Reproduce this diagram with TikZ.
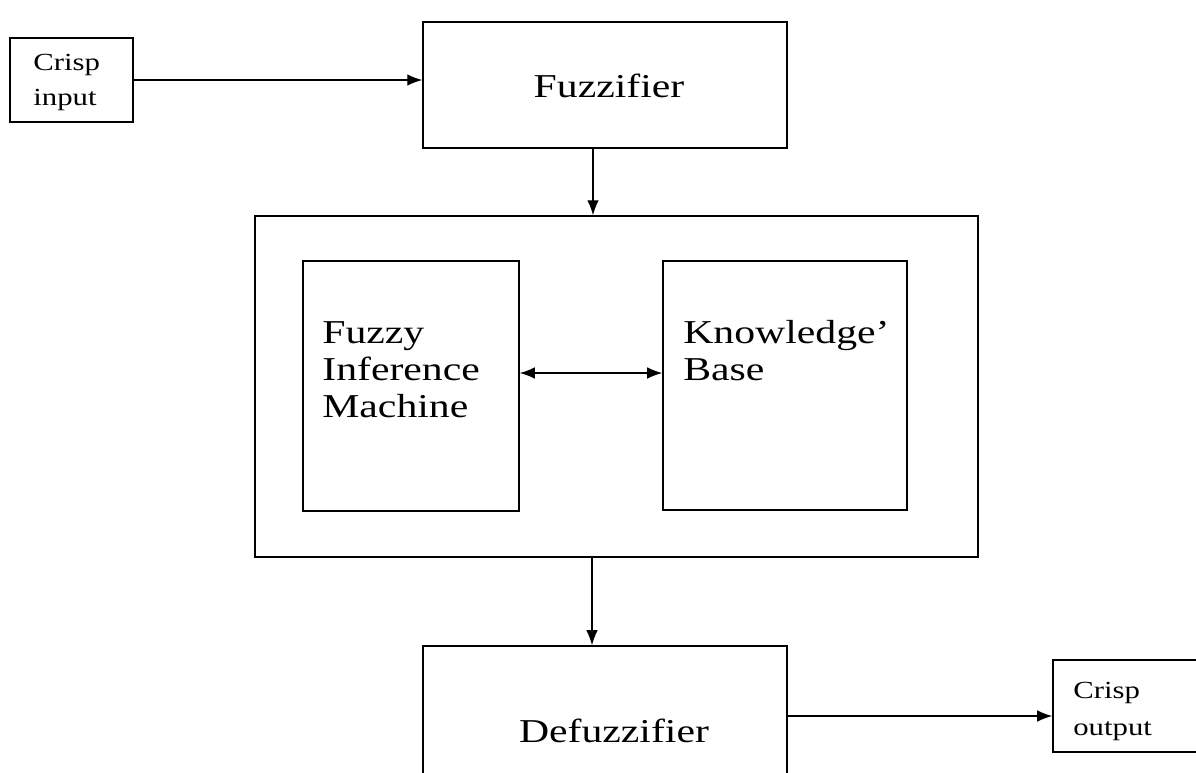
\documentclass[tikz,border=0pt]{standalone}
\usepackage{fontspec}
\setmainfont{Liberation Serif}
\newfontfamily\scanfont[FakeStretch=1.25,Ligatures=TeX]{Liberation Serif}
\usetikzlibrary{arrows.meta}
\begin{document}
\begin{tikzpicture}[x=0.02cm,y=-0.02cm,
  box/.style={draw=black, line width=0.9pt, rectangle, inner sep=0pt},
  bigtext/.style={inner sep=0pt, font=\scanfont\fontsize{19}{21}\selectfont},
  smalltext/.style={inner sep=0pt, font=\scanfont\fontsize{14}{16}\selectfont},
  arr/.style={-{Latex[length=3mm,width=2.3mm]}, line width=0.7pt},
  biarr/.style={{Latex[length=3mm,width=2.3mm]}-{Latex[length=3mm,width=2.3mm]}, line width=0.7pt}]
\useasboundingbox (0,0) rectangle (1196,772);
\clip (0,0) rectangle (1196,772);

% crisp input
\node[box, minimum width=2.46cm, minimum height=1.68cm] (cin) at (71.5,80) {};
\node[smalltext, anchor=base west] (cinA) at (33,70) {Crisp};
\node[smalltext, anchor=base west] (cinB) at (33,105) {input};

% fuzzifier
\node[box, minimum width=7.28cm, minimum height=2.52cm] (fuzz) at (605,85) {};
\node[bigtext, anchor=base] (fuzzT) at (609,97) {Fuzzifier};

% inference block with its two parts
\node[box, minimum width=14.46cm, minimum height=6.82cm] (outer) at (616.5,386.5) {};
\node[box, minimum width=4.32cm, minimum height=5cm] (fim) at (411,386) {};
\node[bigtext, anchor=base west] (fimA) at (322,343) {Fuzzy};
\node[bigtext, anchor=base west] (fimB) at (322,380) {Inference};
\node[bigtext, anchor=base west] (fimC) at (322,417) {Machine};
\node[box, minimum width=4.88cm, minimum height=4.98cm] (kb) at (785,385.5) {};
\node[bigtext, anchor=base west] (kbA) at (683,343) {Knowledge’};
\node[bigtext, anchor=base west] (kbB) at (683,380) {Base};

% defuzzifier (runs past the lower edge)
\node[box, minimum width=7.28cm, minimum height=3.36cm] (defuzz) at (605,730) {};
\node[bigtext, anchor=base] (defuzzT) at (614,742) {Defuzzifier};

% crisp output
\node[box, minimum width=2.94cm, minimum height=1.84cm] (cout) at (1126.5,706) {};
\node[smalltext, anchor=base west] (coutA) at (1073,698) {Crisp};
\node[smalltext, anchor=base west] (coutB) at (1073,735) {output};

% connector guides
\coordinate (ax) at (593,0);
\coordinate (bx) at (592,0);
\coordinate (dy) at (0,373);
\coordinate (oy) at (0,716);

\draw[arr] (cin.east) -- (cin.east -| fuzz.west);
\draw[arr] (fuzz.south -| ax) -- (outer.north -| ax);
\draw[biarr] (fim.east |- dy) -- (kb.west |- dy);
\draw[arr] (outer.south -| bx) -- (defuzz.north -| bx);
\draw[arr] (defuzz.east |- oy) -- (cout.west |- oy);
\end{tikzpicture}
\end{document}
